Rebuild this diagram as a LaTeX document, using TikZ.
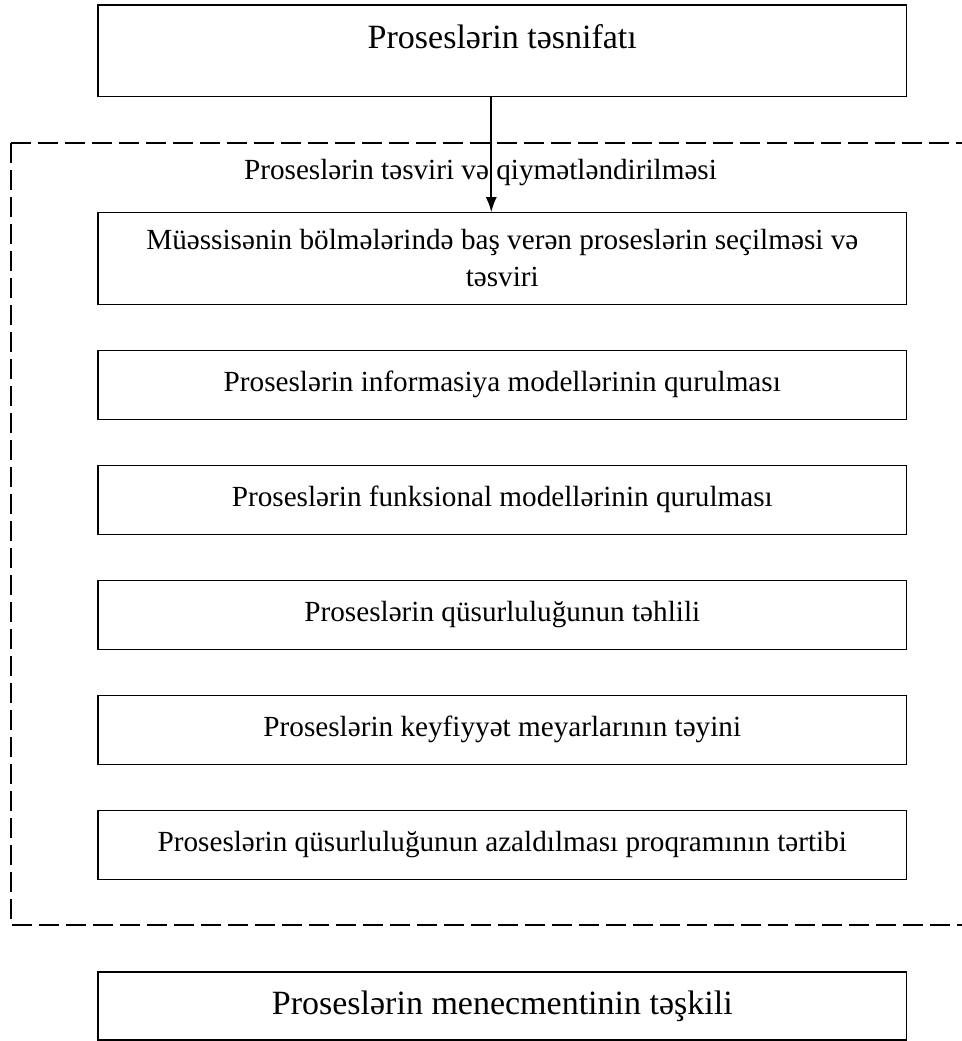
\documentclass[tikz,border=0pt]{standalone}
\usepackage{fontspec}
\setmainfont{Liberation Serif}
\usetikzlibrary{positioning,arrows.meta}

\begin{document}
\begin{tikzpicture}[x=0.5pt,y=-0.5pt,
				box/.style={draw,rectangle,line width=0.7pt,outer sep=0pt,minimum width=404.3pt,
					minimum height=34.5pt,align=center,font=\fontsize{14.6}{18.5}\selectfont},
				bigbox/.style={box,font=\fontsize{17}{20}\selectfont},
				frame/.style={line width=1pt,dash pattern=on 10pt off 3.5pt}]
				\useasboundingbox (0,0) rectangle (962,1041);
				\node (TOP)   [bigbox,minimum height=45.75pt,inner ysep=0pt,
				               text height=21.8pt,text depth=23.95pt] at (502.3,50.6) {Proseslərin təsnifatı};
				\node (LBL)   [font=\fontsize{14.6}{17}\selectfont] at (480.5,173) {Proseslərin təsviri və qiymətləndirilməsi};
				\node (SEL)   [box,minimum height=46pt] at (502.3,258.2)
				              {Müəssisənin bölmələrində baş verən proseslərin seçilməsi və\\ təsviri};
				\node (INF)   [box,below=23pt of SEL] {Proseslərin informasiya modellərinin qurulması};
				\node (FUN)   [box,below=23pt of INF] {Proseslərin funksional modellərinin qurulması};
				\node (QUS)   [box,below=23pt of FUN] {Proseslərin qüsurluluğunun təhlili};
				\node (KEY)   [box,below=23pt of QUS] {Proseslərin keyfiyyət meyarlarının təyini};
				\node (AZA)   [box,below=23pt of KEY] {Proseslərin qüsurluluğunun azaldılması proqramının tərtibi};
				\node (MEN)   [bigbox,minimum height=34pt] at (502.3,1006) {Proseslərin menecmentinin təşkili};

				\draw[-{Latex[length=7.5pt,width=5.5pt]},line width=0.85pt]
					([xshift=-5.5pt]TOP.south) -- ([xshift=-5.5pt]SEL.north);
				\draw[frame] (11,143) -- (962,143)
					(11,143) -- (11,925) -- (962,925);
			\end{tikzpicture}
\end{document}
